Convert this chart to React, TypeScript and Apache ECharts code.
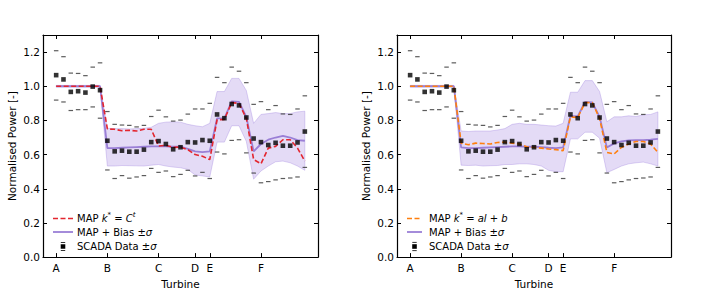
import React, { useEffect, useRef } from 'react';
import * as echarts from 'echarts';

const turbineIndex = [0, 1, 2, 3, 4, 5, 6, 7, 8, 9, 10, 11, 12, 13, 14, 15, 16, 17, 18, 19, 20, 21, 22, 23, 24, 25, 26, 27, 28, 29, 30, 31, 32, 33, 34];
const tickPositions = [0, 7, 14, 19, 21, 28];
const tickLabels = ['A', 'B', 'C', 'D', 'E', 'F'];
const yTicks = [0, 0.2, 0.4, 0.6, 0.8, 1.0, 1.2];

const scada = [1.065, 1.04, 0.967, 0.971, 0.963, 0.998, 0.977, 0.681, 0.619, 0.623, 0.617, 0.617, 0.629, 0.673, 0.679, 0.662, 0.631, 0.643, 0.673, 0.671, 0.685, 0.681, 0.835, 0.813, 0.896, 0.888, 0.817, 0.694, 0.673, 0.656, 0.669, 0.652, 0.652, 0.671, 0.735];
const scadaUpper = [1.208, 1.173, 1.077, 1.075, 1.062, 1.112, 1.137, 0.852, 0.777, 0.773, 0.771, 0.762, 0.771, 0.823, 0.86, 0.821, 0.796, 0.802, 0.837, 0.867, 0.867, 0.9, 1.052, 1.021, 1.112, 1.088, 1.021, 0.894, 0.91, 0.863, 0.887, 0.838, 0.835, 0.867, 0.944];
const scadaLower = [0.919, 0.908, 0.858, 0.863, 0.863, 0.879, 0.813, 0.51, 0.46, 0.477, 0.462, 0.469, 0.477, 0.519, 0.496, 0.504, 0.471, 0.484, 0.508, 0.475, 0.496, 0.46, 0.615, 0.604, 0.683, 0.687, 0.61, 0.492, 0.435, 0.442, 0.452, 0.46, 0.463, 0.469, 0.525];

// Left panel
const mapConst = [1, 1, 1, 1, 1, 1, 1, 0.75, 0.748, 0.74, 0.742, 0.738, 0.748, 0.748, 0.65, 0.654, 0.642, 0.644, 0.629, 0.6, 0.59, 0.571, 0.804, 0.806, 0.904, 0.9, 0.812, 0.571, 0.546, 0.638, 0.648, 0.687, 0.687, 0.638, 0.562];
const biasLeft = [1, 1, 1, 1, 1, 1, 1, 0.638, 0.638, 0.64, 0.642, 0.644, 0.646, 0.648, 0.648, 0.648, 0.646, 0.646, 0.633, 0.619, 0.615, 0.619, 0.812, 0.812, 0.912, 0.908, 0.821, 0.619, 0.662, 0.687, 0.7, 0.71, 0.7, 0.685, 0.681];
const biasLeftUpper = [1.005, 1.005, 1.005, 1.005, 1.005, 1.005, 1.005, 0.754, 0.752, 0.752, 0.75, 0.752, 0.754, 0.76, 0.783, 0.79, 0.792, 0.79, 0.777, 0.769, 0.763, 0.783, 0.969, 0.969, 1.046, 1.046, 0.975, 0.783, 0.835, 0.84, 0.846, 0.84, 0.84, 0.85, 0.854];
const biasLeftLower = [0.995, 0.995, 0.995, 0.995, 0.995, 0.995, 0.995, 0.533, 0.533, 0.536, 0.535, 0.534, 0.533, 0.538, 0.542, 0.533, 0.527, 0.523, 0.513, 0.481, 0.475, 0.469, 0.673, 0.673, 0.769, 0.769, 0.677, 0.456, 0.504, 0.533, 0.558, 0.562, 0.552, 0.533, 0.508];

// Right panel
const mapLinear = [1, 1, 1, 1, 1, 1, 1, 0.667, 0.658, 0.667, 0.665, 0.662, 0.671, 0.673, 0.667, 0.662, 0.646, 0.642, 0.638, 0.633, 0.629, 0.623, 0.821, 0.817, 0.904, 0.904, 0.812, 0.613, 0.604, 0.642, 0.662, 0.677, 0.677, 0.662, 0.613];
const biasRight = [1, 1, 1, 1, 1, 1, 1, 0.642, 0.638, 0.638, 0.64, 0.642, 0.644, 0.646, 0.648, 0.648, 0.646, 0.646, 0.644, 0.64, 0.638, 0.642, 0.827, 0.823, 0.908, 0.906, 0.821, 0.642, 0.665, 0.677, 0.683, 0.685, 0.685, 0.687, 0.692];
const biasRightUpper = [1.005, 1.005, 1.005, 1.005, 1.005, 1.005, 1.005, 0.738, 0.735, 0.738, 0.738, 0.738, 0.744, 0.752, 0.777, 0.783, 0.777, 0.777, 0.773, 0.769, 0.767, 0.783, 0.965, 0.965, 1.033, 1.033, 0.969, 0.792, 0.821, 0.821, 0.827, 0.823, 0.833, 0.835, 0.85];
const biasRightLower = [0.995, 0.995, 0.995, 0.995, 0.995, 0.995, 0.995, 0.538, 0.536, 0.538, 0.533, 0.535, 0.536, 0.542, 0.542, 0.546, 0.546, 0.542, 0.533, 0.508, 0.5, 0.5, 0.692, 0.692, 0.731, 0.731, 0.696, 0.494, 0.513, 0.533, 0.546, 0.552, 0.556, 0.546, 0.533];

const FONT = 'DejaVu Sans';
const RED = '#e3262f';
const ORANGE = '#ff7f0e';
const PURPLE = '#9a7fd6';
const BAND = 'rgba(147,112,219,0.25)';
const BAND_EDGE = 'rgba(147,112,219,0.3)';

type Part = { t: string; it?: boolean; sup?: boolean };

const leftMapLabel: Part[] = [
  { t: 'MAP ' }, { t: 'k', it: true }, { t: '*', sup: true }, { t: ' = ' }, { t: 'C', it: true }, { t: 't', it: true, sup: true },
];
const rightMapLabel: Part[] = [
  { t: 'MAP ' }, { t: 'k', it: true }, { t: '*', sup: true }, { t: ' = ' }, { t: 'al', it: true }, { t: ' + ' }, { t: 'b', it: true },
];
const biasLabel: Part[] = [{ t: 'MAP + Bias ±' }, { t: 'σ', it: true }];
const scadaLabel: Part[] = [{ t: 'SCADA Data ±' }, { t: 'σ', it: true }];

const pairs = (vals: number[]) => turbineIndex.map((t, i) => [t, vals[i]]);

function xAxes(gi: number) {
  return [
    {
      type: 'value', gridIndex: gi, min: -1.8, max: 35.8, position: 'bottom',
      name: 'Turbine', nameLocation: 'middle', nameGap: 17,
      nameTextStyle: { fontSize: 10.5, color: '#000', fontFamily: FONT },
      axisLine: { show: true, onZero: false, lineStyle: { color: '#000', width: 1.2 } },
      axisTick: { show: true, inside: true, length: 4, customValues: tickPositions, lineStyle: { color: '#000' } },
      axisLabel: {
        show: true, customValues: tickPositions, margin: 5, fontSize: 10.5, color: '#000', fontFamily: FONT,
        formatter: (v: number) => { const k = tickPositions.indexOf(Math.round(v)); return k >= 0 ? tickLabels[k] : ''; },
      },
      splitLine: { show: false },
    },
    {
      type: 'value', gridIndex: gi, min: -1.8, max: 35.8, position: 'top',
      axisLine: { show: true, onZero: false, lineStyle: { color: '#000', width: 1.2 } },
      axisTick: { show: true, inside: true, length: 4, customValues: tickPositions, lineStyle: { color: '#000' } },
      axisLabel: { show: false },
      splitLine: { show: false },
    },
  ];
}

function yAxes(gi: number) {
  return [
    {
      type: 'value', gridIndex: gi, min: 0, max: 1.3, position: 'left',
      name: 'Normalised Power [-]', nameLocation: 'middle', nameGap: 26,
      nameTextStyle: { fontSize: 10.5, color: '#000', fontFamily: FONT },
      axisLine: { show: true, onZero: false, lineStyle: { color: '#000', width: 1.2 } },
      axisTick: { show: true, inside: true, length: 4, customValues: yTicks, lineStyle: { color: '#000' } },
      axisLabel: { show: true, customValues: yTicks, margin: 3, fontSize: 10.5, color: '#000', fontFamily: FONT, formatter: (v: number) => v.toFixed(1) },
      splitLine: { show: false },
    },
    {
      type: 'value', gridIndex: gi, min: 0, max: 1.3, position: 'right',
      axisLine: { show: true, onZero: false, lineStyle: { color: '#000', width: 1.2 } },
      axisTick: { show: true, inside: true, length: 4, customValues: yTicks, lineStyle: { color: '#000' } },
      axisLabel: { show: false },
      splitLine: { show: false },
    },
  ];
}

function bandSeries(axisBase: number, lower: number[], upper: number[]) {
  return {
    type: 'custom', xAxisIndex: axisBase, yAxisIndex: axisBase, silent: true, z: 1,
    data: turbineIndex.map((t, i) => [t, lower[i], upper[i]]),
    encode: { x: 0, y: [1, 2] },
    renderItem: (params: any, api: any) => {
      if (params.dataIndex !== 0) return null;
      const pts: number[][] = [];
      for (let i = 0; i < turbineIndex.length; i++) pts.push(api.coord([turbineIndex[i], upper[i]]));
      for (let i = turbineIndex.length - 1; i >= 0; i--) pts.push(api.coord([turbineIndex[i], lower[i]]));
      return { type: 'polygon', shape: { points: pts }, style: { fill: BAND, stroke: BAND_EDGE, lineWidth: 1 } };
    },
  };
}

function panelSeries(axisBase: number, mapVals: number[], mapColor: string, bias: number[], lo: number[], hi: number[]) {
  return [
    bandSeries(axisBase, lo, hi),
    {
      type: 'scatter', xAxisIndex: axisBase, yAxisIndex: axisBase, data: pairs(scadaUpper), symbol: 'rect', symbolSize: [4.5, 1.2],
      itemStyle: { color: '#333' }, z: 2, silent: true,
    },
    {
      type: 'scatter', xAxisIndex: axisBase, yAxisIndex: axisBase, data: pairs(scadaLower), symbol: 'rect', symbolSize: [4.5, 1.2],
      itemStyle: { color: '#333' }, z: 2, silent: true,
    },
    {
      type: 'line', xAxisIndex: axisBase, yAxisIndex: axisBase, data: pairs(bias), symbol: 'none',
      lineStyle: { color: PURPLE, width: 1.8 }, z: 3,
    },
    {
      type: 'line', xAxisIndex: axisBase, yAxisIndex: axisBase, data: pairs(mapVals), symbol: 'none',
      lineStyle: { color: mapColor, width: 1.6, type: [5, 2.5] }, z: 4,
    },
    {
      type: 'scatter', xAxisIndex: axisBase, yAxisIndex: axisBase, data: pairs(scada), symbol: 'rect', symbolSize: 4.6,
      itemStyle: { color: '#000' }, z: 5,
    },
  ];
}

function labelPieces(parts: Part[], x0: number, y: number) {
  const out: any[] = [];
  let x = x0;
  parts.forEach((p) => {
    const size = p.sup ? 7 : 10;
    const font = `${p.it ? 'italic ' : ''}normal ${size}px ${FONT}`;
    const fmt: any = (echarts as any).format;
    const w = fmt && fmt.getTextRect ? fmt.getTextRect(p.t, font).width : p.t.length * size * 0.6;
    out.push({
      type: 'text', x, y: p.sup ? y - 3.5 : y,
      style: { text: p.t, fontSize: size, fontFamily: FONT, fontStyle: p.it ? 'italic' : 'normal', fill: '#000', verticalAlign: 'middle', align: 'left' },
    });
    x += w;
  });
  return out;
}

function legendGraphics(lineX0: number, lineX1: number, textX: number, mapColor: string, mapParts: Part[]) {
  const yA = 218.5, yB = 232, yC = 246.5;
  const mx = (lineX0 + lineX1) / 2;
  return [
    { type: 'line', shape: { x1: lineX0, y1: yA, x2: lineX1, y2: yA }, style: { stroke: mapColor, lineWidth: 1.6, lineDash: [5, 2.5] } },
    { type: 'line', shape: { x1: lineX0, y1: yB, x2: lineX1, y2: yB }, style: { stroke: PURPLE, lineWidth: 1.8 } },
    { type: 'rect', shape: { x: mx - 2.3, y: yC - 2.3, width: 4.6, height: 4.6 }, style: { fill: '#000' } },
    { type: 'rect', shape: { x: mx - 2.2, y: yC - 4.6, width: 4.4, height: 1 }, style: { fill: '#333' } },
    { type: 'rect', shape: { x: mx - 2.2, y: yC + 3.6, width: 4.4, height: 1 }, style: { fill: '#333' } },
    ...labelPieces(mapParts, textX, yA),
    ...labelPieces(biasLabel, textX, yB),
    ...labelPieces(scadaLabel, textX, yC),
  ];
}

export default function App() {
  const ref = useRef<HTMLDivElement>(null);
  useEffect(() => {
    document.body.style.margin = '0';
    if (!ref.current) return;
    const chart = echarts.init(ref.current, undefined, { renderer: 'svg' });
    chart.setOption({
      animation: false,
      backgroundColor: '#fff',
      textStyle: { fontFamily: FONT },
      grid: [
        { left: 43, top: 35, width: 275, height: 226 },
        { left: 397, top: 35, width: 274, height: 226 },
      ],
      xAxis: [...xAxes(0), ...xAxes(1)],
      yAxis: [...yAxes(0), ...yAxes(1)],
      series: [
        ...panelSeries(0, mapConst, RED, biasLeft, biasLeftLower, biasLeftUpper),
        ...panelSeries(2, mapLinear, ORANGE, biasRight, biasRightLower, biasRightUpper),
      ],
      graphic: [
        ...legendGraphics(53, 73, 77, RED, leftMapLabel),
        ...legendGraphics(407, 422, 429, ORANGE, rightMapLabel),
      ],
    });
    return () => chart.dispose();
  }, []);
  return <div ref={ref} style={{ width: 706, height: 294 }} />;
}
